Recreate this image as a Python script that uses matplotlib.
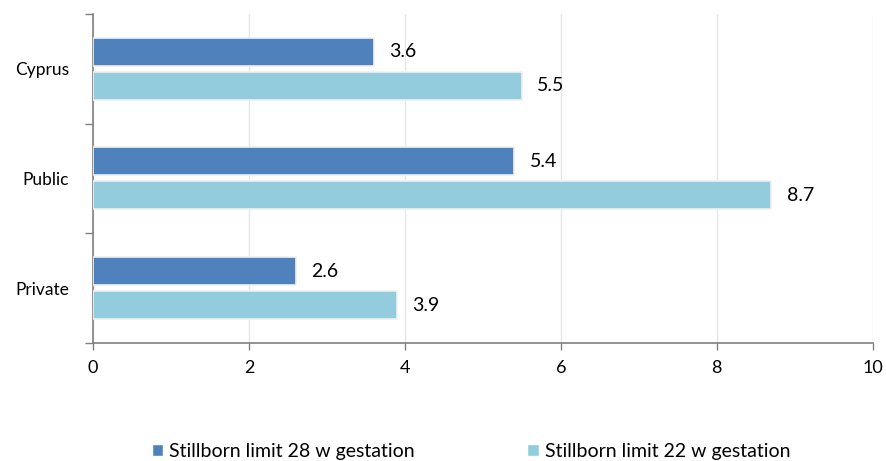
import numpy as np
import matplotlib.pyplot as plt
from matplotlib.patches import Patch

categories = ['Private', 'Public', 'Cyprus']
limit_28w = [2.6, 5.4, 3.6]
limit_22w = [3.9, 8.7, 5.5]
series_names = ['Stillborn limit 28 w gestation', 'Stillborn limit 22 w gestation']
colors = ['#4F81BD', '#93CDDD']

plt.rcParams['font.family'] = ['Lato', 'DejaVu Sans']

fig = plt.figure(figsize=(8.87, 4.61), dpi=100)
ax = fig.add_axes([0.1048, 0.256, 0.879, 0.714])

y = np.arange(len(categories))
h = 0.255
off = 0.155
b1 = ax.barh(y + off, limit_28w, height=h, color=colors[0], edgecolor='#f0f0f0', linewidth=1.2, zorder=3)
b2 = ax.barh(y - off, limit_22w, height=h, color=colors[1], edgecolor='#f0f0f0', linewidth=1.2, zorder=3)

for bars, vals in [(b1, limit_28w), (b2, limit_22w)]:
    for bar, v in zip(bars, vals):
        ax.text(v + 0.2, bar.get_y() + bar.get_height() / 2, f'{v:.1f}',
                va='center', ha='left', fontsize=14, color='black')

ax.set_xlim(0, 10)
ax.set_ylim(-0.5, 2.5)
ax.set_xticks(range(0, 11, 2))
ax.set_yticks(y)
ax.set_yticklabels(categories)
ax.set_yticks([-0.5, 0.5, 1.5, 2.5], minor=True)
ax.tick_params(axis='y', which='major', length=0, pad=17, labelsize=12.5)
ax.tick_params(axis='y', which='minor', length=6, color='#808080', width=1)
ax.tick_params(axis='x', length=5, color='#808080', width=1, labelsize=13, pad=7)

ax.grid(axis='x', color='#e6e6e6', linewidth=1, zorder=0)
for s in ['top', 'right']:
    ax.spines[s].set_visible(False)
for s in ['left', 'bottom']:
    ax.spines[s].set_color('#808080')
    ax.spines[s].set_linewidth(1.2)

handles = [Patch(facecolor=c, edgecolor='white') for c in colors]
fig.legend(handles, series_names, loc='lower center', bbox_to_anchor=(0.531, -0.035),
           ncol=2, frameon=False, fontsize=14, handlelength=0.6, handleheight=0.6,
           handletextpad=0.3, columnspacing=5.8)

fig.savefig('out.png', dpi=100)
